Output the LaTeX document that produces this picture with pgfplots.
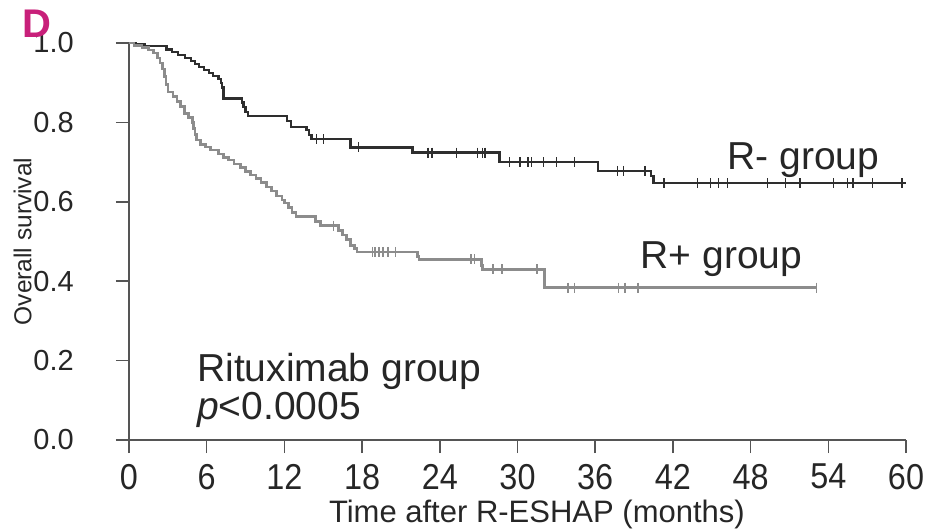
\documentclass[border=0pt]{standalone}
\usepackage{pgfplots}
\pgfplotsset{compat=1.18}
\usepackage{fontspec}
\setmainfont{Liberation Sans}

\definecolor{rneg}{HTML}{2E2E2E}
\definecolor{rpos}{HTML}{8C8C8C}
\definecolor{axisgray}{HTML}{555555}
\definecolor{panel}{HTML}{C8207A}

% Kaplan-Meier estimates (months, survival)
\pgfplotstableread{
t s
0 1.000
0.5 0.996
1.2 0.992
2.9 0.984
3.3 0.977
3.8 0.970
4.3 0.963
4.8 0.955
5.1 0.947
5.4 0.940
5.8 0.932
6.2 0.925
6.5 0.917
6.9 0.910
7.1 0.900
7.2 0.888
7.3 0.860
8.7 0.850
8.85 0.838
9.0 0.827
9.2 0.817
12.2 0.803
12.5 0.789
13.7 0.780
13.9 0.768
14.1 0.758
17.1 0.737
21.9 0.724
28.6 0.700
36.2 0.678
40.3 0.665
40.5 0.647
60 0.647
}\rneg

\pgfplotstableread{
t s
14.5 0.758
15.0 0.758
17.7 0.737
23.1 0.724
23.4 0.724
25.3 0.724
26.9 0.724
27.3 0.724
27.5 0.724
29.4 0.700
30.2 0.700
30.8 0.700
31.1 0.700
32.0 0.700
33.0 0.700
34.4 0.700
37.7 0.678
38.2 0.678
39.85 0.678
41.3 0.647
43.9 0.647
44.9 0.647
45.5 0.647
46.2 0.647
49.3 0.647
50.7 0.647
51.8 0.647
54.4 0.647
55.5 0.647
55.9 0.647
57.4 0.647
59.7 0.647
}\rnegcens

\pgfplotstableread{
t s
0 1.000
0.4 0.994
1.0 0.988
1.5 0.982
1.9 0.975
2.2 0.962
2.4 0.950
2.6 0.935
2.75 0.915
2.85 0.895
3.0 0.877
3.4 0.865
3.7 0.852
4.0 0.840
4.3 0.822
4.6 0.812
4.9 0.800
5.0 0.785
5.1 0.770
5.2 0.756
5.5 0.745
5.9 0.738
6.3 0.730
6.9 0.720
7.3 0.712
7.7 0.705
8.1 0.695
8.6 0.686
9.0 0.677
9.4 0.668
9.8 0.658
10.2 0.648
10.6 0.637
11.0 0.627
11.4 0.615
11.8 0.605
12.0 0.597
12.3 0.585
12.6 0.573
12.9 0.563
14.4 0.550
14.8 0.540
16.2 0.528
16.5 0.516
16.8 0.505
17.1 0.490
17.4 0.482
17.6 0.474
22.3 0.462
22.4 0.455
27.2 0.440
27.3 0.430
32.1 0.384
53.1 0.384
}\rpos

\pgfplotstableread{
t s
15.8 0.540
18.8 0.474
19.0 0.474
19.3 0.474
19.6 0.474
20.0 0.474
20.6 0.474
26.4 0.455
26.7 0.455
28.1 0.430
28.8 0.430
31.5 0.430
33.9 0.384
34.4 0.384
37.8 0.384
38.3 0.384
39.3 0.384
53.1 0.384
}\rposcens

\begin{document}
\begin{tikzpicture}
\useasboundingbox (-129pt,-88pt) rectangle (820pt,440pt);
\begin{axis}[
  at={(0pt,0pt)}, anchor=south west,
  scale only axis,
  width=777pt, height=397pt,
  xmin=0, xmax=60, ymin=0, ymax=1,
  axis lines*=left,
  axis line style={axisgray, line width=1.6pt, -},
  every tick/.style={axisgray, line width=1.6pt},
  tick align=outside,
  major tick length=13pt,
  xtick={0,6,...,60},
  ytick={0,0.2,...,1.0},
  /pgf/number format/assume math mode=true,
  ticklabel style={text=black!85},
  xticklabel style={font=\fontsize{36}{36}\selectfont, xscale=0.9, anchor=north, inner sep=0pt, yshift=-11pt},
  yticklabel style={font=\fontsize{29}{29}\selectfont, anchor=east, inner sep=0pt, xshift=-42pt,
    /pgf/number format/fixed, /pgf/number format/fixed zerofill, /pgf/number format/precision=1},
  xlabel={Time after R-ESHAP (months)},
  every axis x label/.style={at={(axis description cs:0.525,0)}, anchor=base, yshift=-82pt,
    font=\fontsize{31}{31}\selectfont, text=black!85},
  ylabel={Overall survival},
  every axis y label/.style={at={(axis description cs:-0.137,0.5)}, anchor=center, rotate=90,
    font=\fontsize{24.5}{24.5}\selectfont, text=black!85},
  clip=false,
]
\addplot[const plot, rneg, line width=2.3pt] table[x=t, y=s] {\rneg};
\addplot[only marks, mark=|, mark size=5pt, rneg, mark options={line width=1.4pt}] table[x=t, y=s] {\rnegcens};
\addplot[const plot, rpos, line width=2.6pt] table[x=t, y=s] {\rpos};
\addplot[only marks, mark=|, mark size=5pt, rpos, mark options={line width=1.4pt}] table[x=t, y=s] {\rposcens};

\node[anchor=base west, inner sep=0pt, font=\fontsize{41}{41}\selectfont, text=black!85] at (axis cs:46.2,0.682) {\fontsize{39}{39}\selectfont R- group};
\node[anchor=base west, inner sep=0pt, font=\fontsize{39}{39}\selectfont, text=black!85] at (axis cs:39.5,0.433) {R+ group};
\node[anchor=base west, inner sep=0pt, font=\fontsize{39}{39}\selectfont, text=black!85] at (axis cs:5.25,0.148) {Rituximab group};
\node[anchor=base west, inner sep=0pt, font=\fontsize{39}{39}\selectfont, text=black!85] at (axis cs:5.25,0.051) {\textit{p}<0.0005};
\end{axis}
\node[anchor=base west, inner sep=0pt, font=\fontsize{40}{40}\selectfont\bfseries, text=panel] at (-107pt,402pt) {D};
\end{tikzpicture}
\end{document}
